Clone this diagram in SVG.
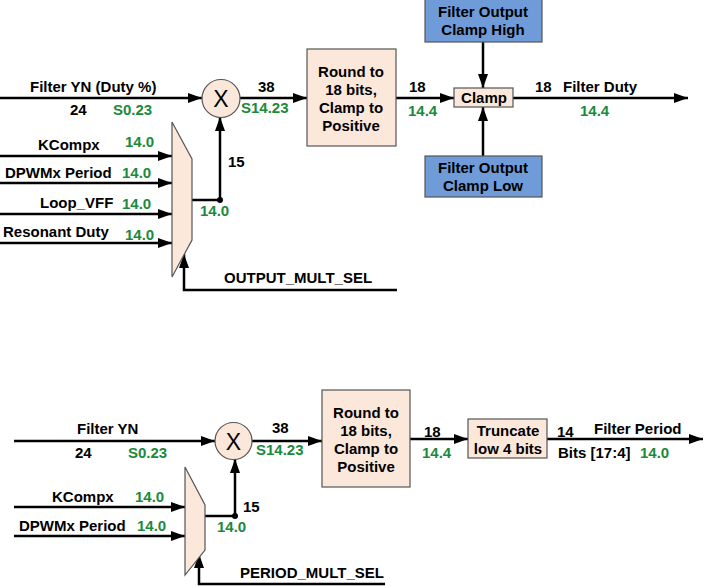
<svg xmlns="http://www.w3.org/2000/svg" width="704" height="586" viewBox="0 0 704 586">
<defs>
<marker id="ah" viewBox="0 0 10 10" refX="10" refY="5" markerWidth="10" markerHeight="10" markerUnits="userSpaceOnUse" orient="auto">
<path d="M0,0 L10,5 L0,10 z" fill="#000"/>
</marker>
<marker id="ah2" viewBox="0 0 14 10" refX="14" refY="5" markerWidth="14" markerHeight="10" markerUnits="userSpaceOnUse" orient="auto">
<path d="M0,0 L14,5 L0,10 z" fill="#000"/>
</marker>
</defs>
<style>
text{font-family:"Liberation Sans",Arial,sans-serif;font-weight:bold;font-size:15px;fill:#000}
.g{fill:#1a8a3c}
.m{text-anchor:middle}
.x{font-weight:normal;font-size:23px}
.w{stroke:#000;stroke-width:2.5;fill:none}
.peach{fill:#fbe8da;stroke:#555;stroke-width:1.2}
.blue{fill:#6f9bd9;stroke:#555;stroke-width:1.2}
</style>
<rect width="704" height="586" fill="#fff"/>

<g id="connectors">
<!-- top -->
<line class="w" x1="0" y1="98" x2="202" y2="98" marker-end="url(#ah2)"/>
<line class="w" x1="240" y1="98" x2="307" y2="98" marker-end="url(#ah2)"/>
<line class="w" x1="396" y1="98" x2="454" y2="98" marker-end="url(#ah2)"/>
<line class="w" x1="513" y1="98" x2="688" y2="98" marker-end="url(#ah2)"/>
<line class="w" x1="483" y1="42" x2="483" y2="88" marker-end="url(#ah2)"/>
<line class="w" x1="483" y1="156" x2="483" y2="107" marker-end="url(#ah2)"/>
<line class="w" x1="0" y1="156" x2="172" y2="156" marker-end="url(#ah2)"/>
<line class="w" x1="0" y1="183" x2="172" y2="183" marker-end="url(#ah2)"/>
<line class="w" x1="0" y1="214" x2="172" y2="214" marker-end="url(#ah2)"/>
<line class="w" x1="0" y1="243" x2="172" y2="243" marker-end="url(#ah2)"/>
<polyline class="w" points="192,200 220,200"/>
<line class="w" x1="220" y1="200" x2="220" y2="117" marker-end="url(#ah2)"/>
<circle cx="220" cy="200" r="3" fill="#000"/>
<polyline class="w" points="397,290 184,290 184,254" marker-end="url(#ah2)"/>
<!-- bottom -->
<line class="w" x1="14" y1="441" x2="215" y2="441" marker-end="url(#ah2)"/>
<line class="w" x1="252" y1="441" x2="322" y2="441" marker-end="url(#ah2)"/>
<line class="w" x1="410" y1="439" x2="468" y2="439" marker-end="url(#ah2)"/>
<line class="w" x1="547" y1="439" x2="703" y2="439" marker-end="url(#ah2)"/>
<line class="w" x1="14" y1="507" x2="185" y2="507" marker-end="url(#ah2)"/>
<line class="w" x1="14" y1="536" x2="185" y2="536" marker-end="url(#ah2)"/>
<polyline class="w" points="205,516 235,516"/>
<line class="w" x1="235" y1="516" x2="235" y2="459" marker-end="url(#ah2)"/>
<circle cx="235" cy="516" r="3" fill="#000"/>
<polyline class="w" points="385,584 199,584 199,554" marker-end="url(#ah2)"/>
</g>

<!-- top section nodes -->
<g id="mult1">
<circle cx="221" cy="98.5" r="19" class="peach"/>
<text class="x m" x="221" y="107">X</text>
</g>
<g id="round1">
<rect x="307" y="49" width="89" height="97" class="peach"/>
<text class="m" x="351" y="77">Round to</text>
<text class="m" x="351" y="95">18 bits,</text>
<text class="m" x="351" y="113">Clamp to</text>
<text class="m" x="351" y="131">Positive</text>
</g>
<g id="clamp">
<rect x="454" y="88" width="59" height="19" class="peach"/>
<text class="m" x="484" y="103">Clamp</text>
</g>
<g id="clampHigh">
<rect x="425" y="-1" width="117" height="43" class="blue"/>
<text class="m" x="483" y="17">Filter Output</text>
<text class="m" x="483" y="35">Clamp High</text>
</g>
<g id="clampLow">
<rect x="425" y="156" width="117" height="41" class="blue"/>
<text class="m" x="483" y="173">Filter Output</text>
<text class="m" x="483" y="191">Clamp Low</text>
</g>
<g id="mux1">
<polygon points="172,122 192,159 192,240 172,277" class="peach"/>
</g>
<g id="labels1">
<text x="30" y="92">Filter YN (Duty %)</text>
<text x="70" y="115">24</text>
<text class="g" x="113" y="115">S0.23</text>
<text x="258" y="92">38</text>
<text class="g" x="241" y="113">S14.23</text>
<text x="409" y="92">18</text>
<text class="g" x="408" y="116">14.4</text>
<text x="535" y="92">18</text>
<text x="563" y="92">Filter Duty</text>
<text class="g" x="580" y="116">14.4</text>
<text x="38" y="150">KCompx</text>
<text class="g" x="125" y="147">14.0</text>
<text x="5" y="178">DPWMx Period</text>
<text class="g" x="122" y="178">14.0</text>
<text x="40" y="208">Loop_VFF</text>
<text class="g" x="122" y="209">14.0</text>
<text x="3" y="237">Resonant Duty</text>
<text class="g" x="125" y="240">14.0</text>
<text x="228" y="167">15</text>
<text class="g" x="200" y="216">14.0</text>
<text x="224" y="283">OUTPUT_MULT_SEL</text>
</g>

<!-- bottom section nodes -->
<g id="mult2">
<circle cx="233.5" cy="441" r="18.5" class="peach"/>
<text class="x m" x="233.5" y="449.5">X</text>
</g>
<g id="round2">
<rect x="322" y="390" width="88" height="97" class="peach"/>
<text class="m" x="366" y="418">Round to</text>
<text class="m" x="366" y="436">18 bits,</text>
<text class="m" x="366" y="454">Clamp to</text>
<text class="m" x="366" y="472">Positive</text>
</g>
<g id="truncate">
<rect x="468" y="419" width="79" height="39" class="peach"/>
<text class="m" x="508" y="436">Truncate</text>
<text class="m" x="508" y="454">low 4 bits</text>
</g>
<g id="mux2">
<polygon points="185,467 205,505 205,550 185,575" class="peach"/>
</g>
<g id="labels2">
<text x="77" y="434">Filter YN</text>
<text x="75" y="458">24</text>
<text class="g" x="128" y="458">S0.23</text>
<text x="272" y="433">38</text>
<text class="g" x="256" y="455">S14.23</text>
<text x="424" y="437">18</text>
<text class="g" x="422" y="458">14.4</text>
<text x="557" y="437">14</text>
<text x="594" y="434">Filter Period</text>
<text x="558" y="458">Bits [17:4]</text>
<text class="g" x="640" y="458">14.0</text>
<text x="52" y="502">KCompx</text>
<text class="g" x="135" y="502">14.0</text>
<text x="19" y="531">DPWMx Period</text>
<text class="g" x="137" y="531">14.0</text>
<text x="243" y="512">15</text>
<text class="g" x="217" y="532">14.0</text>
<text x="240" y="578">PERIOD_MULT_SEL</text>
</g>
</svg>
